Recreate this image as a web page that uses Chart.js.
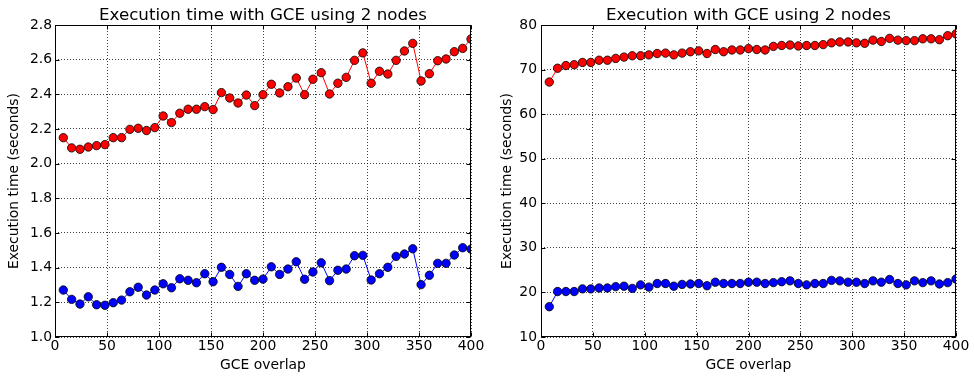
<!DOCTYPE html>
<html>
<head>
<meta charset="utf-8">
<script src="https://cdn.jsdelivr.net/npm/chart.js@4/dist/chart.umd.min.js"></script>
<style>
  html, body { margin: 0; padding: 0; background: #fff; }
  #wrap { position: relative; width: 974px; height: 376px; overflow: hidden; }
  .panel { position: absolute; top: 0; width: 487px; height: 376px; }
  canvas { display: block; }
</style>
</head>
<body>
<div id="wrap">
  <div class="panel" style="left:0"><canvas id="c1" width="487" height="376"></canvas></div>
  <div class="panel" style="left:487px"><canvas id="c2" width="487" height="376"></canvas></div>
</div>
<script>
// GCE overlap values (x axis)
const overlap = [8,16,24,32,40,48,56,64,72,80,88,96,104,112,120,128,136,144,152,160,
                 168,176,184,192,200,208,216,224,232,240,248,256,264,272,280,288,296,304,312,320,
                 328,336,344,352,360,368,376,384,392,400];

// Left panel: execution time (seconds)
const panel1Red = [2.150,2.091,2.083,2.096,2.104,2.110,2.150,2.150,2.198,2.204,
                   2.191,2.208,2.275,2.237,2.291,2.314,2.314,2.329,2.312,2.410,
                   2.379,2.350,2.396,2.335,2.398,2.458,2.408,2.444,2.494,2.398,
                   2.487,2.525,2.402,2.464,2.498,2.596,2.639,2.464,2.533,2.517,
                   2.596,2.650,2.694,2.477,2.519,2.594,2.604,2.646,2.665,2.719];
const panel1Blue = [1.271,1.217,1.190,1.232,1.186,1.183,1.198,1.213,1.261,1.287,
                    1.242,1.271,1.307,1.284,1.336,1.327,1.313,1.365,1.319,1.402,
                    1.361,1.292,1.365,1.327,1.334,1.405,1.361,1.392,1.434,1.333,
                    1.375,1.428,1.325,1.385,1.392,1.469,1.471,1.329,1.365,1.402,
                    1.465,1.479,1.509,1.302,1.356,1.425,1.425,1.473,1.515,1.507];

// Right panel: execution time (seconds)
const panel2Red = [67.2,70.3,70.9,71.1,71.6,71.6,72.1,72.1,72.5,72.8,
                   73.1,73.1,73.3,73.6,73.7,73.3,73.7,74.0,74.2,73.6,
                   74.5,74.0,74.4,74.4,74.7,74.5,74.4,75.2,75.4,75.5,
                   75.3,75.4,75.4,75.6,76.0,76.2,76.2,76.0,75.9,76.6,
                   76.3,77.0,76.6,76.5,76.5,76.9,76.9,76.7,77.6,78.0];
const panel2Blue = [16.8,20.2,20.2,20.2,20.8,20.8,21.0,21.0,21.3,21.4,
                    20.9,21.7,21.2,22.0,22.0,21.4,21.8,21.9,22.0,21.5,
                    22.3,22.0,22.0,22.0,22.3,22.3,22.0,22.2,22.4,22.6,
                    22.0,21.7,22.0,22.0,22.7,22.6,22.3,22.3,22.0,22.6,
                    22.3,22.9,22.0,21.7,22.6,22.2,22.6,21.9,22.2,23.0];

const titles = ['Execution time with GCE using 2 nodes', 'Execution with GCE using 2 nodes'];
const xTitle = 'GCE overlap';
const yTitle = 'Execution time (seconds)';

const FONT = "'DejaVu Sans', 'Liberation Sans', sans-serif";
const LABEL_SIZE = 13.9;
const TITLE_SIZE = 16.7;
Chart.defaults.font.family = FONT;
Chart.defaults.color = '#000';

// Axes frame, inward tick marks and the panel title centred over the plot area
const framePlugin = {
  id: 'frame',
  afterDatasetsDraw(chart) {
    const { ctx, chartArea: a, scales: { x, y } } = chart;
    const L = Math.round(a.left) + 0.5, R = Math.round(a.right) - 0.5;
    const T = Math.round(a.top) + 0.5, B = Math.round(a.bottom) - 0.5;
    ctx.save();
    ctx.strokeStyle = '#000';
    ctx.lineWidth = 1;
    ctx.beginPath();
    x.ticks.forEach(t => {
      const px = Math.round(x.getPixelForValue(t.value)) + 0.5;
      ctx.moveTo(px, B); ctx.lineTo(px, B - 4);
      ctx.moveTo(px, T); ctx.lineTo(px, T + 4);
    });
    y.ticks.forEach(t => {
      const py = Math.round(y.getPixelForValue(t.value)) + 0.5;
      ctx.moveTo(L, py); ctx.lineTo(L + 4, py);
      ctx.moveTo(R, py); ctx.lineTo(R - 4, py);
    });
    ctx.stroke();
    ctx.strokeRect(L, T, R - L, B - T);
    ctx.restore();
  },
  afterDraw(chart, args, opts) {
    const { ctx, chartArea: a } = chart;
    ctx.save();
    ctx.fillStyle = '#000';
    ctx.font = TITLE_SIZE + 'px ' + FONT;
    ctx.textAlign = 'center';
    ctx.textBaseline = 'alphabetic';
    ctx.fillText(opts.text, (a.left + a.right) / 2, 19.5);
    ctx.restore();
  }
};

function series(values, color) {
  return {
    data: overlap.map((v, i) => ({ x: v, y: values[i] })),
    borderColor: color,
    backgroundColor: color,
    borderWidth: 1,
    pointRadius: 4.2,
    pointBackgroundColor: color,
    pointBorderColor: '#000',
    pointBorderWidth: 0.8,
    tension: 0,
    clip: 0
  };
}

function makeChart(id, cfg) {
  return new Chart(document.getElementById(id), {
    type: 'line',
    data: { datasets: [series(cfg.red, '#ff0000'), series(cfg.blue, '#0000ff')] },
    options: {
      responsive: false,
      animation: false,
      devicePixelRatio: 1,
      events: [],
      layout: { padding: { left: 0, right: cfg.padRight, top: 25, bottom: 0 } },
      plugins: {
        legend: { display: false },
        tooltip: { enabled: false },
        title: { display: false },
        frame: { text: cfg.title }
      },
      scales: {
        x: {
          type: 'linear',
          min: 0, max: 400,
          afterFit(s) { s.height = 39; },
          ticks: { stepSize: 50, padding: 1, font: { size: LABEL_SIZE }, color: '#000', maxRotation: 0 },
          grid: { color: 'rgba(0,0,0,0.75)', lineWidth: 1, drawTicks: false },
          border: { display: false, dash: [1, 2] },
          title: { display: true, text: xTitle, font: { size: LABEL_SIZE }, color: '#000', padding: { top: 0, bottom: 2.5 } }
        },
        y: {
          type: 'linear',
          min: cfg.yMin, max: cfg.yMax,
          afterFit(s) { s.width = cfg.yWidth; },
          ticks: {
            stepSize: cfg.yStep, padding: cfg.tickPad, font: { size: LABEL_SIZE }, color: '#000',
            callback: v => cfg.yDecimals ? Number(v).toFixed(1) : String(Math.round(v))
          },
          grid: { color: 'rgba(0,0,0,0.75)', lineWidth: 1, drawTicks: false },
          border: { display: false, dash: [1, 2] },
          title: { display: true, text: yTitle, font: { size: LABEL_SIZE }, color: '#000', padding: { top: cfg.yTitlePad, bottom: 0 } }
        }
      }
    },
    plugins: [framePlugin]
  });
}

makeChart('c1', {
  red: panel1Red, blue: panel1Blue, title: titles[0],
  yMin: 1.0, yMax: 2.8, yStep: 0.2, yDecimals: true,
  yWidth: 55, padRight: 16, tickPad: 3, yTitlePad: 6.5
});
makeChart('c2', {
  red: panel2Red, blue: panel2Blue, title: titles[1],
  yMin: 10, yMax: 80, yStep: 10, yDecimals: false,
  yWidth: 54, padRight: 18, tickPad: 4, yTitlePad: 12
});
</script>
</body>
</html>
